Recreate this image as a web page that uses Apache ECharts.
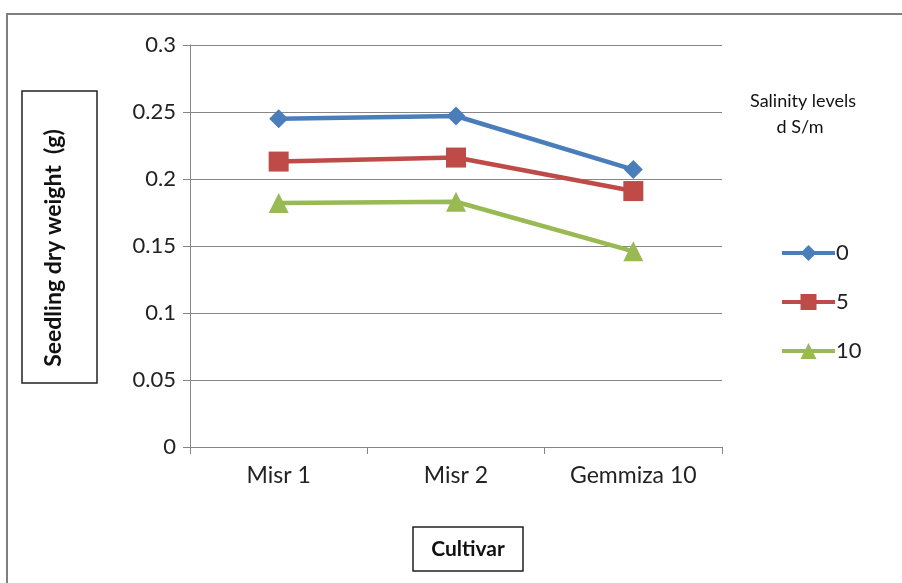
<!DOCTYPE html>
<html>
<head>
<meta charset="utf-8">
<script src="https://cdn.jsdelivr.net/npm/echarts@6/dist/echarts.min.js"></script>
<style>
  html, body { margin: 0; padding: 0; background: #fff; }
  #chart { width: 902px; height: 583px; }
</style>
</head>
<body>
<div id="chart"></div>
<script>
// 数据
const cultivars = ['Misr 1', 'Misr 2', 'Gemmiza 10']
const salinity0 = [0.245, 0.247, 0.207]
const salinity5 = [0.213, 0.216, 0.191]
const salinity10 = [0.182, 0.183, 0.146]
const seriesNames = ['0', '5', '10']

const chart = echarts.init(document.getElementById('chart'))
const font = 'Lato, "Open Sans", sans-serif'
const gridGray = '#868686'

function lineSeries(name, data, color, symbol, size) {
  return {
    name: name,
    type: 'line',
    data: data,
    symbol: symbol,
    symbolSize: size,
    lineStyle: { color: color, width: 4.5 },
    itemStyle: { color: color },
    emphasis: { disabled: true }
  }
}

const option = {
  animation: false,
  grid: { left: 190, right: 180, top: 45, bottom: 136 },
  xAxis: {
    type: 'category',
    data: cultivars,
    boundaryGap: true,
    axisLine: { lineStyle: { color: gridGray } },
    axisTick: { show: true, length: 7, lineStyle: { color: gridGray } },
    axisLabel: { color: '#222', fontSize: 23, fontFamily: font, margin: 17 }
  },
  yAxis: {
    type: 'value',
    min: 0,
    max: 0.3,
    interval: 0.05,
    axisLine: { show: true, lineStyle: { color: gridGray } },
    axisTick: { show: true, length: 7, lineStyle: { color: gridGray } },
    axisLabel: { color: '#222', fontSize: 22, fontFamily: font, margin: 14 }
    ,
    splitLine: { lineStyle: { color: gridGray } }
  },
  legend: {
    orient: 'vertical',
    left: 775,
    top: 237,
    itemWidth: 53,
    itemHeight: 20,
    itemGap: 27,
    data: seriesNames,
    lineStyle: { width: 4 },
    textStyle: { fontSize: 22, fontFamily: font, color: '#222', padding: [0, 0, 0, -4] }
  },
  graphic: [
    // 外边框
    {
      type: 'rect',
      shape: { x: 7, y: 14, width: 1000, height: 1000 },
      style: { fill: 'none', stroke: '#7f7f7f', lineWidth: 2 }
    },
    // Y轴标题框
    {
      type: 'rect',
      shape: { x: 22, y: 91, width: 75, height: 292 },
      style: { fill: '#fff', stroke: '#222', lineWidth: 1.5 }
    },
    {
      type: 'text',
      x: 54,
      y: 248,
      rotation: Math.PI / 2,
      style: {
        text: 'Seedling dry weight  (g)',
        font: 'bold 23px ' + font,
        fill: '#111',
        align: 'center',
        verticalAlign: 'middle'
      }
    },
    // X轴标题框
    {
      type: 'rect',
      shape: { x: 413, y: 527, width: 110, height: 44 },
      style: { fill: '#fff', stroke: '#222', lineWidth: 1.5 }
    },
    {
      type: 'text',
      x: 468,
      y: 549,
      style: {
        text: 'Cultivar',
        font: 'bold 21px ' + font,
        fill: '#111',
        align: 'center',
        verticalAlign: 'middle'
      }
    },
    // 图例标题
    {
      type: 'text',
      x: 803,
      y: 101,
      style: {
        text: 'Salinity levels',
        font: '18px ' + font,
        fill: '#111',
        align: 'center',
        verticalAlign: 'middle'
      }
    },
    {
      type: 'text',
      x: 800,
      y: 127,
      style: {
        text: 'd S/m',
        font: '18px ' + font,
        fill: '#111',
        align: 'center',
        verticalAlign: 'middle'
      }
    }
  ],
  series: [
    lineSeries('0', salinity0, '#4A7EBB', 'diamond', 19),
    lineSeries('5', salinity5, '#BE4B48', 'rect', 20),
    lineSeries('10', salinity10, '#98B954', 'triangle', 20)
  ]
}

chart.setOption(option)
</script>
</body>
</html>
